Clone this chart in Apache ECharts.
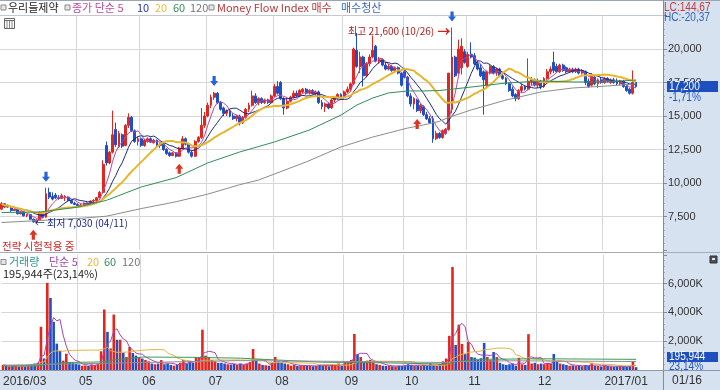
<!DOCTYPE html>
<html>
<head>
<meta charset="utf-8">
<script src="https://cdn.jsdelivr.net/npm/echarts@6/dist/echarts.min.js"></script>
<style>
html,body{margin:0;padding:0;background:#fff;}
#chart{width:720px;height:390px;}
</style>
</head>
<body>
<div id="chart"></div>
<script>
// ---------------- data ----------------
const tradingDays = {
  '2016-03': [28,29,30,31],
  '2016-04': [1,4,5,6,7,8,11,12,14,15,18,19,20,21,22,25,26,27,28,29],
  '2016-05': [2,3,4,9,10,11,12,13,16,17,18,19,20,23,24,25,26,27,30,31],
  '2016-06': [1,2,3,7,8,9,10,13,14,15,16,17,20,21,22,23,24,27,28,29,30],
  '2016-07': [1,4,5,6,7,8,11,12,13,14,15,18,19,20,21,22,25,26,27,28,29],
  '2016-08': [1,2,3,4,5,8,9,10,11,12,16,17,18,19,22,23,24,25,26,29,30,31],
  '2016-09': [1,2,5,6,7,8,9,12,13,19,20,21,22,23,26,27,28,29,30],
  '2016-10': [4,5,6,7,10,11,12,13,14,17,18,19,20,21,24,25,26,27,28,31],
  '2016-11': [1,2,3,4,7,8,9,10,11,14,15,16,17,18,21,22,23,24,25,28,29,30],
  '2016-12': [1,2,5,6,7,8,9,12,13,14,15,16,19,20,21,22,23,26,27,28,29],
  '2017-01': [2,3,4,5,6,9,10,11,12,13,16]
};
const opens = [
  8050,8450,8200,8250,7950,8050,7700,7850,7550,7650,
  7300,7100,7250,7750,7450,9300,9000,9100,8900,8850,
  8900,8950,8700,8500,8400,8300,8400,8500,8400,8650,
  8700,8900,9300,12800,11500,12300,14000,12700,13600,12800,
  14300,14900,13900,13100,13300,12800,13100,13300,13000,13200,
  12800,12900,12500,12250,12050,12250,12000,12600,13300,12900,
  12300,12000,13100,13400,14300,15000,15800,16400,16700,16000,
  15600,15200,15400,15000,14800,15000,14500,14900,15500,15800,
  16500,16000,16300,16000,16200,16000,16500,17200,17500,16300,
  15600,16100,16400,16700,16500,16800,17000,16700,16900,16650,
  16800,16000,15700,15900,15600,16200,16400,16600,16400,16800,
  17000,17400,19900,18700,19400,18000,18900,19400,20200,19100,
  19200,18800,18500,18700,18400,18600,18200,18300,17900,16500,
  15900,16200,15400,15700,15100,14800,14800,13300,13700,13400,
  13700,14000,15500,19400,18200,18600,19800,18700,19600,19500,
  18900,18600,18300,17300,18200,18700,18200,18500,18000,17800,
  17400,17000,16600,16300,16900,17200,17000,17500,17700,17300,
  17600,17200,17800,18300,19000,18700,18300,18800,18600,18300,
  18500,18300,18500,18200,18300,17600,17300,17900,17400,17700,
  17500,17800,17500,17700,17600,17400,17600,17200,17000,16700,
  17500
];
const highs = [
  8580,8500,8400,8300,8100,8100,7900,7900,7700,7700,
  7350,7300,7900,7800,9650,9650,9300,9250,9100,9200,
  9100,9000,8750,8600,8500,8450,8550,8550,8700,8800,
  8950,9400,11700,13100,12400,15400,14500,13900,13700,14400,
  15200,15000,14000,13500,13400,13300,13400,13400,13300,13250,
  13000,12950,12600,12350,12300,12300,12700,13500,13400,13000,
  12400,13200,13500,15600,15300,16000,16600,16800,16800,16100,
  15700,15500,15500,15200,15100,15100,15000,15600,16000,16900,
  16700,16400,16400,16300,16300,16600,17400,17600,17600,16400,
  16300,16500,16900,16900,17000,17100,17100,17000,17000,16900,
  16900,16200,16000,16000,16300,16500,16700,16700,16900,17200,
  17500,20100,21200,19800,19500,19000,19600,21000,20300,19400,
  19300,19000,18900,18800,18700,18700,18300,18600,18000,16700,
  16400,16300,15900,15800,15300,15000,15000,13900,13800,14000,
  14100,18200,21600,19500,20700,20800,20000,19800,20500,19700,
  19100,18900,18400,18400,18800,18800,18600,18600,18200,17900,
  17500,17200,16700,17000,17400,17300,19300,17900,17800,17800,
  17700,17900,18500,18700,19800,18900,18900,18900,18700,18600,
  18600,18600,18600,18500,18400,17800,18200,18000,17800,17900,
  17900,17900,17800,17850,17800,17700,17700,17300,17100,18400,
  17600
];
const lows = [
  8000,8150,8150,7850,7900,7650,7650,7500,7450,7250,
  7030,7050,7200,7400,7400,8800,8700,8800,8750,8800,
  8650,8650,8450,8350,8250,8200,8350,8350,8350,8550,
  8600,8850,9250,11300,11400,12200,12700,12600,12600,12750,
  14100,13800,13000,12800,12700,12700,13000,13000,12950,12700,
  12600,12400,12100,11950,12000,11900,11950,12500,12800,12200,
  11900,11950,13000,13300,14100,14900,15600,16200,15900,15400,
  15000,15000,14900,14700,14600,14300,14400,14800,15300,15700,
  15900,15800,15900,15900,15900,15950,16400,16600,16200,15100,
  15500,16000,16300,16400,16400,16700,16600,16600,16600,16500,
  15900,15500,15300,15500,15550,16000,16200,16300,16300,16700,
  16800,17300,18600,18200,17200,17900,18700,19300,19000,18900,
  18700,18400,18400,18300,18200,18100,17200,17800,16400,15700,
  15500,15300,15200,15000,14700,14400,13000,13200,13300,13300,
  13600,13900,15200,17900,18100,18100,18900,18600,19300,18800,
  18400,17900,15100,17100,18100,18100,18000,17900,17700,17300,
  16800,16400,16100,16200,16700,16900,16900,17300,17200,17100,
  17000,17100,17700,18100,18200,18200,18200,18300,18200,18200,
  18200,18200,18100,18100,17300,17100,17200,17300,17100,17400,
  17400,17500,17400,17400,17300,17300,17100,16800,16600,16600,
  17100
];
const closes = [
  8450,8200,8300,7950,8050,7700,7850,7550,7650,7300,
  7100,7250,7750,7450,9200,8950,8800,8900,8850,9050,
  9000,8700,8500,8400,8300,8350,8500,8400,8650,8700,
  8900,9300,11400,11500,12300,13600,12850,13700,12750,14300,
  14900,13900,13100,13300,12800,13200,13300,13050,13200,12800,
  12900,12500,12200,12050,12250,12000,12600,13300,12900,12300,
  12000,13100,13400,14300,15000,15800,16400,16700,16000,15500,
  15200,15400,15000,14800,15000,14500,14900,15500,15800,16500,
  16000,16300,16000,16200,16000,16500,17200,16700,16300,15600,
  16100,16400,16700,16500,16900,17000,16700,16900,16650,16800,
  16000,15700,15900,15600,16200,16400,16600,16400,16800,17000,
  17400,20000,18700,19400,18000,18900,19400,19900,19100,19200,
  18800,18500,18700,18400,18600,18200,17300,17900,16500,15900,
  16300,15400,15800,15100,14800,14500,13300,13700,13400,13900,
  14000,18200,19400,18000,20000,20200,19000,19600,19400,18900,
  18500,18000,17700,18300,18700,18200,18500,18000,17800,17400,
  16900,16500,16300,16900,17200,17000,17600,17700,17300,17600,
  17200,17800,18300,18500,18400,18300,18800,18400,18300,18500,
  18300,18500,18200,18400,17500,17200,18000,17400,17700,17500,
  17800,17600,17700,17500,17400,17600,17200,16900,16700,17500,
  17200
];
const volumesK = [
  350,300,250,300,280,220,300,250,350,400,
  450,500,3000,800,6050,5000,3350,1830,1320,650,
  1130,550,500,420,380,300,320,280,380,350,
  450,1300,4200,2650,1500,3850,2100,2100,1200,900,
  1600,1180,1000,900,800,700,600,450,400,450,
  690,400,450,350,300,350,500,700,450,600,
  500,900,900,2800,1000,900,700,600,500,500,
  450,400,380,420,350,450,350,450,550,1460,
  650,450,350,330,300,500,900,600,500,450,
  400,300,350,280,320,300,280,300,260,280,
  350,300,320,260,400,350,450,300,500,600,
  700,2500,1100,900,600,650,700,500,400,350,
  300,280,300,260,250,300,280,320,400,350,
  300,320,280,300,300,450,350,300,400,600,
  800,2370,7150,1740,3150,1810,1100,1950,900,860,
  700,820,1880,900,690,1250,900,500,400,350,
  400,450,300,850,400,350,2490,450,500,400,
  450,400,500,450,1110,600,450,400,350,300,
  320,280,300,260,350,300,500,300,280,250,
  300,280,250,220,240,260,250,230,280,600,
  195.944
];
// long moving averages: [day index, value]
const ma60Points = [[0,7800],[12,7830],[24,8200],[33,8700],[44,9700],[55,10400],[65,11500],[75,12310],
  [86,13060],[97,13950],[107,15070],[112,15820],[117,16340],[122,16720],[128,16870],[133,16870],
  [138,16900],[148,17160],[159,17460],[170,17610],[180,17540],[191,17540],[200,17690]];
const ma120Points = [[0,7050],[12,7200],[24,7350],[33,7520],[44,8090],[55,8600],[65,9170],[75,9870],
  [81,10220],[96,11570],[107,12690],[117,13430],[128,14100],[133,14330],[138,14600],[141,14900],
  [148,15450],[159,16190],[170,16790],[180,17090],[191,17240],[200,17390]];
const volMa60Points = [[0,280],[12,300],[14,420],[20,520],[31,560],[35,700],[44,900],[60,880],[75,820],
  [101,540],[120,500],[140,410],[141,450],[142,560],[150,740],[170,780],[200,740]];
const volMa120Points = [[0,330],[44,520],[75,650],[107,600],[140,520],[142,580],[160,640],[200,590]];
const buySignals = [10, 56, 131];     // Money Flow Index 매수
const exitSignals = [14, 67, 142];    // 매수청산
const lowMark = { index: 10, text: '최저 7,030 (04/11)' };
const highMark = { index: 142, text: '최고 21,600 (10/26)' };
const priceChange = '-1,71%';
const volumeInfo = { text: '195,944', pct: '23,14%', legend: '195,944주(23,14%)' };
const indicatorText = { lc: 'LC:144,67', hc: 'HC:-20,37' };
const lastDateLabel = '01/16';
const padCount = 8;

// ---------------- build ----------------
const categories = [];
const labelAt = {};
const gridAt = new Set();
for (const [ym, days] of Object.entries(tradingDays)) {
  const [y, m] = ym.split('-');
  const start = categories.length;
  if (ym !== '2016-04') {
    labelAt[start] = (start === 0 || m === '01') ? y + '/' + m : m;
    if (start > 0) gridAt.add(start);
  }
  days.forEach(d => categories.push(ym + '-' + String(d).padStart(2, '0')));
}
for (let i = 0; i < padCount; i++) categories.push('pad' + i);

const fmt = n => String(n).replace(/\B(?=(\d{3})+(?!\d))/g, ',');
function sma(arr, n) {
  return arr.map((_, i) => {
    const s = Math.max(0, i - n + 1);
    let sum = 0;
    for (let j = s; j <= i; j++) sum += arr[j];
    return +(sum / (i - s + 1)).toFixed(1);
  });
}
const UP = '#e3261d', DOWN = '#1f4fc6';
const FONT_NUM = '"Liberation Sans",Arial,sans-serif';
const FONT_KR = '"Noto Sans CJK KR","Noto Sans",sans-serif';
const DOWN_ARROW = 'path://M3,0L7,0L7,5L10,5L5,10L0,5L3,5Z';
const UP_ARROW = 'path://M5,0L10,5L7,5L7,10L3,10L3,5L0,5Z';

const candleData = opens.map((o, i) => [o, closes[i], lows[i], highs[i]]);
const volData = volumesK.map((v, i) => ({ value: v, itemStyle: { color: closes[i] >= opens[i] ? UP : DOWN } }));

const markData = [];
buySignals.forEach(i => markData.push({ coord: [i, lows[i]], symbol: UP_ARROW, symbolSize: [8, 10],
  symbolOffset: [0, 12], itemStyle: { color: '#e2321f' }, label: { show: false } }));
exitSignals.forEach(i => markData.push({ coord: [i, highs[i]], symbol: DOWN_ARROW, symbolSize: [8, 10],
  symbolOffset: [0, -11], itemStyle: { color: '#2563d9' }, label: { show: false } }));
markData.push({ coord: [lowMark.index, lows[lowMark.index]], symbol: 'rect', symbolSize: 1,
  itemStyle: { color: 'rgba(0,0,0,0)' },
  label: { show: true, position: 'right', distance: 1, formatter: '← ' + lowMark.text,
    color: '#1b2a8f', fontSize: 10, fontFamily: FONT_KR } });
markData.push({ coord: [highMark.index, highs[highMark.index]], symbol: 'rect', symbolSize: 1,
  itemStyle: { color: 'rgba(0,0,0,0)' },
  label: { show: true, position: 'left', distance: 1, offset: [0, 3.5],
    formatter: '{t|' + highMark.text + '} {a|→}',
    rich: { t: { color: '#b3211e', fontSize: 10, fontFamily: FONT_KR },
            a: { color: '#d0201a', fontSize: 13, fontWeight: 'bold', fontFamily: FONT_KR } } } });

const lineS = (name, data, color, width, xi, yi) => ({
  name, type: 'line', data, xAxisIndex: xi, yAxisIndex: yi, showSymbol: false, symbol: 'none',
  lineStyle: { color, width }, itemStyle: { color }, silent: true, animation: false
});

const xAxisBase = (gi, showLabel) => ({
  type: 'category', gridIndex: gi, data: categories, boundaryGap: true,
  axisLine: { show: false }, axisTick: { show: false },
  axisLabel: showLabel ? {
    show: true, interval: (i) => (i in labelAt), formatter: (v, i) => labelAt[i] || '',
    align: 'left', margin: 6, color: '#333', fontSize: 12, fontFamily: FONT_NUM
  } : { show: false },
  splitLine: { show: true, interval: (i) => gridAt.has(i), lineStyle: { color: '#d6d6d6', width: 1 } }
});

const GL = '#d6d6d6', T = 'rgba(0,0,0,0)';
const yAxisBase = (gi, min, max, interval, fmtFn, splitColors) => ({
  type: 'value', gridIndex: gi, position: 'right', min, max, interval,
  axisLine: { show: true, lineStyle: { color: '#7f8c9e' } },
  axisTick: { show: true, length: 4, lineStyle: { color: '#7f8c9e' } },
  minorTick: { show: true, splitNumber: 5, length: 2, lineStyle: { color: '#a2acba' } },
  axisLabel: { margin: 5, color: '#333', fontSize: 11, fontFamily: FONT_NUM, formatter: fmtFn },
  splitLine: { show: true, lineStyle: { color: splitColors, width: 1 } }
});

const chart = echarts.init(document.getElementById('chart'), null, { renderer: 'canvas' });
const option = {
  animation: false,
  backgroundColor: '#ffffff',
  grid: [
    { left: -1, top: 15.5, width: 664, height: 234.5 },
    { left: -1, top: 254.8, width: 664, height: 115.2 }
  ],
  xAxis: [xAxisBase(0, false), xAxisBase(1, true)],
  yAxis: [
    yAxisBase(0, 5000, 22500, 2500, v => (v <= 5000 || v >= 22500) ? '' : fmt(v),
      [T, GL, GL, GL, GL, GL, GL, '#c4c8ce']),
    yAxisBase(1, 0, 8000, 2000, v => (v <= 0 || v >= 8000) ? '' : fmt(v) + 'K',
      [T, GL, GL, GL, T])
  ],
  series: [
    { name: '우리들제약', type: 'candlestick', xAxisIndex: 0, yAxisIndex: 0, data: candleData,
      barWidth: 2.4, itemStyle: { color: UP, color0: DOWN, borderColor: UP, borderColor0: DOWN, borderWidth: 1 },
      markPoint: { data: markData, animation: false } },
    lineS('MA5', sma(closes, 5), '#b548a8', 1, 0, 0),
    lineS('MA10', sma(closes, 10), '#1c2a80', 1, 0, 0),
    lineS('MA20', sma(closes, 20), '#e6b62e', 2, 0, 0),
    lineS('MA60', ma60Points, '#2f8f55', 1, 0, 0),
    lineS('MA120', ma120Points, '#8c8c8c', 1, 0, 0),
    { name: '거래량', type: 'bar', xAxisIndex: 1, yAxisIndex: 1, data: volData, barWidth: 2.6, animation: false },
    lineS('VMA5', sma(volumesK, 5), '#a544b8', 1, 1, 1),
    lineS('VMA20', sma(volumesK, 20), '#e2b440', 1, 1, 1),
    lineS('VMA60', volMa60Points, '#3a9a5a', 1, 1, 1),
    lineS('VMA120', volMa120Points, '#8e8e8e', 1, 1, 1)
  ]
};
chart.setOption(option);

// ---------------- decorations ----------------
const priceY = chart.convertToPixel({ yAxisIndex: 0 }, closes[closes.length - 1]);
const txt = (x, y, text, fill, size, family, extra) => Object.assign({
  type: 'text', x, y, z: 50,
  style: { text, fill, font: size + 'px ' + family, textAlign: 'left', textVerticalAlign: 'middle',
           align: 'left', verticalAlign: 'middle' }
}, extra || {});
const sq = (x, y) => ({ type: 'rect', z: 50, shape: { x, y, width: 5, height: 5 },
  style: { fill: '#e6e6e6', stroke: '#8a8a8a', lineWidth: 1 } });
const panel = '#d6e2ef';
const narrow = { scaleX: 0.84, scaleY: 1 };
const graphics = [
  { type: 'rect', z: -10, shape: { x: 663, y: 0, width: 57, height: 372 }, style: { fill: panel } },
  { type: 'rect', z: -10, shape: { x: 0, y: 370.5, width: 720, height: 19.5 }, style: { fill: panel } },
  { type: 'line', z: 40, shape: { x1: 0, y1: 370.5, x2: 720, y2: 370.5 }, style: { stroke: '#8e9aab', lineWidth: 1 } },
  { type: 'line', z: 40, shape: { x1: 0, y1: 252.5, x2: 720, y2: 252.5 }, style: { stroke: '#a4aebb', lineWidth: 1 } },
  { type: 'line', z: 40, shape: { x1: 0, y1: 0.5, x2: 720, y2: 0.5 }, style: { stroke: '#9ba6b4', lineWidth: 1 } },
  { type: 'line', z: 40, shape: { x1: 663.5, y1: 0, x2: 663.5, y2: 390 }, style: { stroke: '#7f8c9e', lineWidth: 1 } },
  // header legend
  sq(1, 5), txt(8, 8, '우리들제약', '#222', 11, FONT_KR),
  sq(65, 5), txt(72, 8, '종가 단순 5', '#c04a9e', 11, FONT_KR),
  txt(137, 8, '10', '#2a3890', 11, FONT_KR),
  txt(155, 8, '20', '#e2c040', 11, FONT_KR),
  txt(173, 8, '60', '#3a8a5a', 11, FONT_KR),
  txt(190, 8, '120', '#777777', 11, FONT_KR),
  sq(209, 5), txt(217, 8, 'Money Flow Index 매수', '#b83838', 11, FONT_KR),
  txt(341, 8, '매수청산', '#3a68b8', 11, FONT_KR),
  // price panel icon
  { type: 'rect', z: 50, shape: { x: 4.5, y: 18.5, width: 10, height: 10 }, style: { fill: '#fff', stroke: '#666', lineWidth: 1 } },
  { type: 'line', z: 51, shape: { x1: 4.5, y1: 20.5, x2: 14.5, y2: 20.5 }, style: { stroke: '#666' } },
  { type: 'line', z: 51, shape: { x1: 7, y1: 21, x2: 7, y2: 28 }, style: { stroke: '#888' } },
  { type: 'line', z: 51, shape: { x1: 9.5, y1: 21, x2: 9.5, y2: 28 }, style: { stroke: '#888' } },
  { type: 'line', z: 51, shape: { x1: 12, y1: 21, x2: 12, y2: 28 }, style: { stroke: '#888' } },
  txt(2, 246, '전략 시험적용 중', '#d02828', 10.5, FONT_KR),
  // volume legend
  sq(1, 259.5), txt(9, 262, '거래량', '#2a9a8a', 11, FONT_KR),
  txt(49, 262, '단순 5', '#a04ab0', 11, FONT_KR),
  txt(87, 262, '20', '#e0b840', 11, FONT_KR),
  txt(104, 262, '60', '#3a8a5a', 11, FONT_KR),
  txt(122, 262, '120', '#777777', 11, FONT_KR),
  txt(3, 274, volumeInfo.legend, '#222', 11, FONT_KR),
  { type: 'rect', z: 50, shape: { x: 710, y: 256, width: 7, height: 7 }, style: { fill: '#4a4f58', stroke: '#333' } },
  { type: 'rect', z: 51, shape: { x: 712, y: 258, width: 3, height: 2 }, style: { fill: '#dfe5ee' } },
  // right panel texts
  txt(664, 7.5, indicatorText.lc, '#cc3b3b', 12, FONT_NUM, narrow),
  txt(664, 17.5, indicatorText.hc, '#3366b8', 12, FONT_NUM, narrow),
  { type: 'rect', z: 60, shape: { x: 667, y: priceY - 5.5, width: 51, height: 11 }, style: { fill: '#1d4fbf' } },
  txt(669, priceY, fmt(closes[closes.length - 1]), '#ffffff', 12, FONT_NUM, Object.assign({ z: 61 }, narrow)),
  txt(669, priceY + 11, priceChange, '#2457c5', 12, FONT_NUM, Object.assign({ z: 61 }, narrow)),
  { type: 'rect', z: 60, shape: { x: 667, y: 352, width: 51, height: 10 }, style: { fill: '#1d4fbf' } },
  txt(669, 357, volumeInfo.text, '#ffffff', 12, FONT_NUM, Object.assign({ z: 61 }, narrow)),
  txt(669, 367, volumeInfo.pct, '#2457c5', 12, FONT_NUM, Object.assign({ z: 61 }, narrow)),
  txt(672, 381, lastDateLabel, '#333', 12, FONT_NUM)
];
chart.setOption({ graphic: { elements: graphics } });
</script>
</body>
</html>
